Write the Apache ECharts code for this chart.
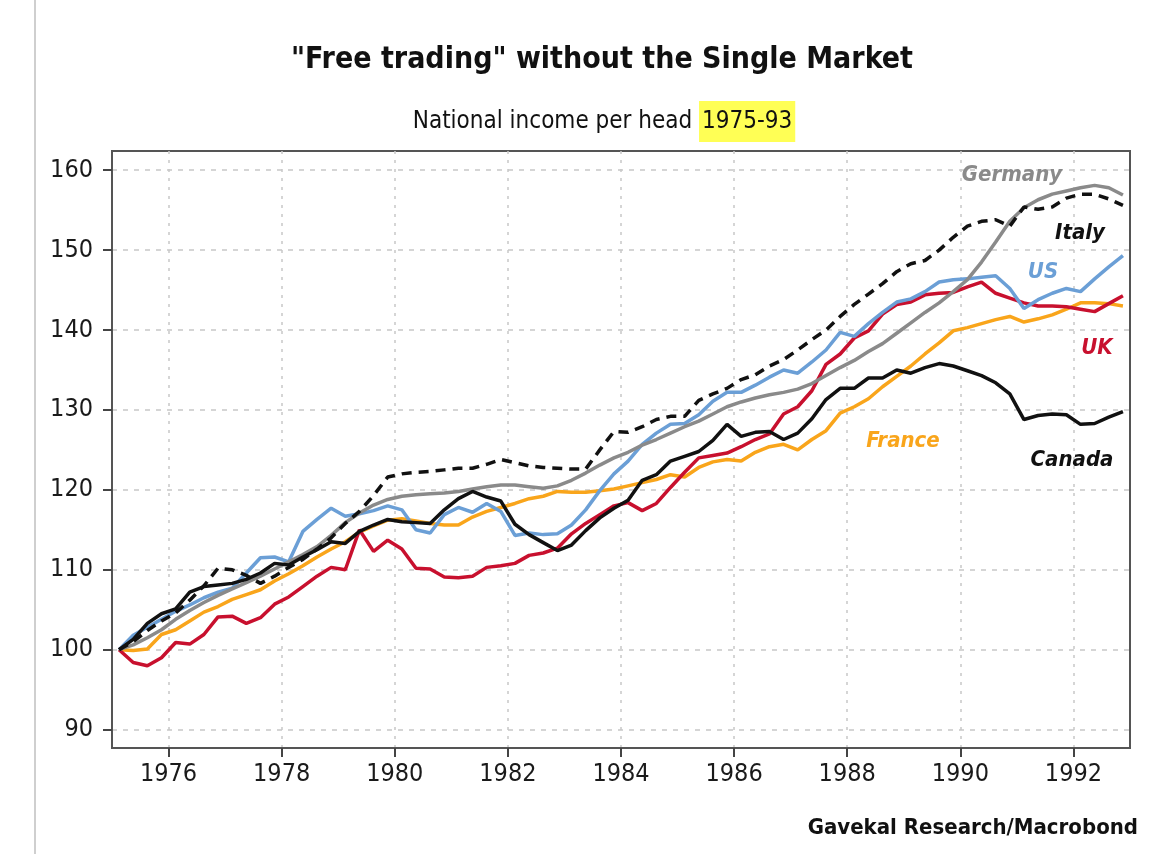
<!DOCTYPE html>
<html><head><meta charset="utf-8">
<script src="https://cdn.jsdelivr.net/npm/echarts@6/dist/echarts.min.js"></script>
<style>html,body{margin:0;padding:0;background:#fff}#c{width:1159px;height:854px}</style>
</head><body><div id="c"></div>
<script>
const quarters = [
 "1975Q1","1975Q2","1975Q3","1975Q4","1976Q1","1976Q2","1976Q3","1976Q4",
 "1977Q1","1977Q2","1977Q3","1977Q4","1978Q1","1978Q2","1978Q3","1978Q4",
 "1979Q1","1979Q2","1979Q3","1979Q4","1980Q1","1980Q2","1980Q3","1980Q4",
 "1981Q1","1981Q2","1981Q3","1981Q4","1982Q1","1982Q2","1982Q3","1982Q4",
 "1983Q1","1983Q2","1983Q3","1983Q4","1984Q1","1984Q2","1984Q3","1984Q4",
 "1985Q1","1985Q2","1985Q3","1985Q4","1986Q1","1986Q2","1986Q3","1986Q4",
 "1987Q1","1987Q2","1987Q3","1987Q4","1988Q1","1988Q2","1988Q3","1988Q4",
 "1989Q1","1989Q2","1989Q3","1989Q4","1990Q1","1990Q2","1990Q3","1990Q4",
 "1991Q1","1991Q2","1991Q3","1991Q4","1992Q1","1992Q2","1992Q3","1992Q4"];

const france = [100,99.9,100.1,101.9, 102.5,103.6,104.7,105.4, 106.3,106.9,107.5,108.6, 109.5,110.5,111.6,112.6,
 113.5,114.7,115.5,116.2, 116.4,116.1,115.8,115.6, 115.6,116.6,117.3,117.8, 118.3,118.9,119.2,119.8,
 119.7,119.7,119.9,120.1, 120.5,120.9,121.3,121.9, 121.6,122.8,123.5,123.8, 123.6,124.7,125.4,125.7,
 125.0,126.3,127.4,129.6, 130.4,131.4,132.9,134.2, 135.5,137.0,138.4,139.9, 140.3,140.8,141.3,141.7,
 141.0,141.4,141.9,142.6, 143.4,143.4,143.3,143.0];
const uk = [100,98.4,98.0,99.0, 100.9,100.7,101.9,104.1, 104.2,103.3,104.0,105.7, 106.6,107.9,109.2,110.3,
 110.0,115.0,112.3,113.7, 112.6,110.2,110.1,109.1, 109.0,109.2,110.3,110.5, 110.8,111.8,112.1,112.7,
 114.5,115.8,116.9,118.0, 118.4,117.4,118.3,120.3, 122.2,124.0,124.3,124.6, 125.4,126.3,127.0,129.5,
 130.4,132.4,135.7,137.0, 139.0,139.9,142.0,143.2, 143.5,144.4,144.6,144.7, 145.4,146.0,144.6,144.0,
 143.4,143.0,143.0,142.9, 142.6,142.3,143.3,144.3];
const us = [100,101.8,102.8,103.8, 104.8,105.6,106.5,107.2, 107.7,109.6,111.5,111.6, 111.0,114.8,116.3,117.7,
 116.7,117.0,117.4,118.0, 117.5,115.0,114.6,116.9, 117.8,117.2,118.3,117.3, 114.3,114.6,114.4,114.5,
 115.6,117.5,119.9,122.0, 123.6,125.7,127.1,128.2, 128.3,129.4,131.1,132.2, 132.2,133.1,134.1,135.0,
 134.6,136.0,137.5,139.7, 139.2,140.8,142.2,143.5, 143.9,144.8,146.0,146.3, 146.4,146.6,146.8,145.2,
 142.7,143.8,144.6,145.2, 144.8,146.4,147.9,149.3];
const germany = [100,100.6,101.5,102.5, 103.8,104.9,105.9,106.8, 107.6,108.4,109.2,110.1, 111.0,111.9,112.9,114.3,
 115.9,117.1,118.1,118.8, 119.2,119.4,119.5,119.6, 119.8,120.1,120.4,120.6, 120.6,120.4,120.2,120.5,
 121.2,122.1,123.1,124.0, 124.7,125.6,126.3,127.1, 127.9,128.6,129.5,130.4, 131.0,131.5,131.9,132.2,
 132.6,133.3,134.3,135.3, 136.2,137.3,138.3,139.6, 140.9,142.2,143.4,144.8, 146.3,148.5,151.0,153.6,
 155.3,156.3,157.0,157.4, 157.8,158.1,157.8,156.9];
const italy = [100,101.0,102.4,103.6, 104.6,106.2,108.0,110.2, 110.0,109.3,108.3,109.2, 110.3,111.3,112.6,114.0,
 115.8,117.3,119.3,121.6, 122.0,122.2,122.3,122.5, 122.7,122.7,123.2,123.8, 123.4,123.0,122.8,122.7,
 122.6,122.6,125.0,127.3, 127.2,127.9,128.8,129.2, 129.2,131.2,132.0,132.7, 133.8,134.4,135.5,136.3,
 137.5,138.8,140.0,141.7, 143.2,144.5,145.8,147.3, 148.3,148.7,150.0,151.6, 153.0,153.6,153.8,153.0,
 155.4,155.1,155.4,156.5, 157.0,157.0,156.4,155.6];
const canada = [100,101.3,103.3,104.5, 105.1,107.2,107.9,108.1, 108.3,108.8,109.6,110.8, 110.6,111.6,112.5,113.5,
 113.3,114.8,115.6,116.3, 116.0,115.9,115.8,117.5, 118.9,119.8,119.1,118.6, 115.7,114.4,113.4,112.4,
 113.1,114.9,116.5,117.7, 118.7,121.2,121.9,123.6, 124.2,124.8,126.2,128.2, 126.7,127.2,127.3,126.3,
 127.1,128.9,131.3,132.7, 132.7,134.0,134.0,135.0, 134.6,135.3,135.8,135.5, 134.9,134.3,133.4,132.0,
 128.8,129.3,129.5,129.4, 128.2,128.3,129.1,129.8];

const xTicks = [1976,1978,1980,1982,1984,1986,1988,1990,1992];
const yTicks = [90,100,110,120,130,140,150,160];

const FONT = '"Liberation Sans Narrow","DejaVu Sans Condensed","Open Sans",sans-serif';

// quarter label -> mid-quarter position in decimal years
function qpos(q){ const y = +q.slice(0,4), n = +q.slice(5); return y + (n - 0.5) / 4; }
function pts(arr){ return quarters.map((q,i)=>[qpos(q), arr[i]]); }

const chart = echarts.init(document.getElementById('c'), null, {renderer:'canvas'});
function line(name, data, color, dashed){
  return {name, type:'line', data: pts(data), symbol:'none', smooth:false,
    lineStyle:{color, width:3.5, type: dashed ? [10,7] : 'solid'}, z: 3};
}
const lbl = (text, x, y, color) => ({type:'text', x, y, z:10,
  style:{text, fill:color, font:'italic bold 22px '+FONT, textAlign:'center', textVerticalAlign:'middle'}});
chart.setOption({
  backgroundColor:'#ffffff',
  animation:false,
  title:[
    {text:'"Free trading" without the Single Market', left:597, top:40, textAlign:'center',
     textStyle:{fontFamily:FONT, fontSize:30, fontWeight:'bold', color:'#111'}},
    {text:'{a|National income per head }{h|1975-93}', left:599, top:96, textAlign:'center',
     textStyle:{rich:{
       a:{fontFamily:FONT, fontSize:24, fontWeight:'normal', color:'#111'},
       h:{fontFamily:FONT, fontSize:24, fontWeight:'normal', color:'#111', backgroundColor:'#ffff55', padding:[9,3,8,3]}
     }}}
  ],
  grid:{left:112, top:151, right:29, bottom:106, show:true, borderColor:'#555', borderWidth:2, backgroundColor:'transparent'},
  xAxis:{type:'value', min:1975, max:1993,
    axisLine:{show:true, lineStyle:{color:'#555', width:2}},
    axisTick:{show:true, customValues:xTicks, length:9, lineStyle:{color:'#444', width:2}},
    axisLabel:{customValues:xTicks, formatter:v=>String(v), fontFamily:FONT, fontSize:25, color:'#1a1a1a', margin:14},
    splitLine:{show:true, lineStyle:{color:'#c8c8c8', width:1.5, type:[3,6]}}},
  yAxis:{type:'value', min:87.7, max:162.4,
    axisLine:{show:true, lineStyle:{color:'#555', width:2}},
    axisTick:{show:true, customValues:yTicks, length:9, lineStyle:{color:'#444', width:2}},
    axisLabel:{customValues:yTicks, fontFamily:FONT, fontSize:25, color:'#1a1a1a', margin:19},
    splitLine:{show:true, lineStyle:{color:'#c8c8c8', width:1.5, type:[5,6]}}},
  series:[
    line('France', france, '#f9a51b'),
    line('UK', uk, '#c8102e'),
    line('US', us, '#6b9fd6'),
    line('Germany', germany, '#8a8a8a'),
    line('Italy', italy, '#111', true),
    line('Canada', canada, '#111')
  ],
  graphic:[
    {type:'rect', shape:{x:34, y:0, width:2, height:854}, style:{fill:'#cfcfcf'}, silent:true},
    lbl('Germany', 1012, 175, '#8a8a8a'),
    lbl('Italy', 1080, 233, '#111'),
    lbl('US', 1043, 272, '#6b9fd6'),
    lbl('UK', 1097, 348, '#c8102e'),
    lbl('France', 903, 441, '#f9a51b'),
    lbl('Canada', 1072, 460, '#111'),
    {type:'text', x:1138, y:828, style:{text:'Gavekal Research/Macrobond', fill:'#111', font:'bold 22px '+FONT, textAlign:'right', textVerticalAlign:'middle'}}
  ]
});
</script></body></html>
